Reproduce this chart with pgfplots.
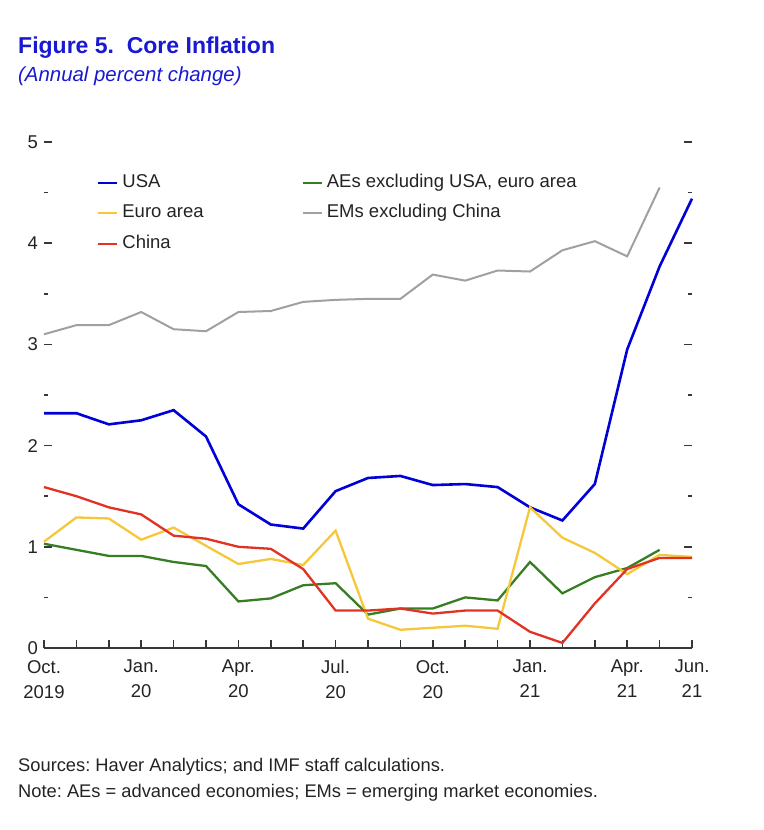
\documentclass[border=0pt]{standalone}
\usepackage{pgfplots}
\pgfplotsset{compat=1.18}
\usepackage{fontspec}
\setmainfont{Liberation Sans}
\frenchspacing
\definecolor{titleblue}{RGB}{25,25,210}
\definecolor{usablue}{RGB}{0,0,215}
\definecolor{euroyellow}{RGB}{245,200,60}
\definecolor{chinared}{RGB}{225,50,35}
\definecolor{aegreen}{RGB}{55,125,35}
\definecolor{emgray}{RGB}{160,160,160}
\definecolor{axisgray}{RGB}{55,55,55}
\definecolor{txt}{RGB}{35,35,35}
\begin{document}
\begin{tikzpicture}
\path[use as bounding box] (0,0) rectangle (764bp,830bp);
\node[anchor=base west, inner sep=0, text=titleblue, font=\fontsize{23bp}{27bp}\selectfont\bfseries] at (18bp,776bp) {Figure 5.\ \ Core Inflation};
\node[anchor=base west, inner sep=0, text=titleblue, font=\fontsize{20.4bp}{24bp}\selectfont\itshape] at (18bp,748bp) {(Annual percent change)};
\begin{axis}[
  at={(44bp,182bp)}, anchor=south west,
  scale only axis, width=648bp, height=506bp,
  xmin=0, xmax=20, ymin=0, ymax=5,
  axis line style={draw=none},
  tick align=inside,
  xtick pos=bottom, ytick pos=both,
  xtick={0,...,20},
  xticklabels={{Oct.\\2019},,,{Jan.\\20},,,{Apr.\\20},,,{Jul.\\20},,,{Oct.\\20},,,{Jan.\\21},,,{Apr.\\21},,{Jun.\\21}},
  ytick={0,1,2,3,4,5},
  minor ytick={0.5,1.5,2.5,3.5,4.5},
  major tick length=8bp, minor tick length=4bp,
  every tick/.style={axisgray, line width=1.5bp},
  /pgf/number format/assume math mode=true,
  tick label style={font=\fontsize{18.5bp}{25bp}\selectfont, text=txt},
  xticklabel style={align=center, anchor=north, inner sep=0pt, yshift=-12bp},
  yticklabel style={anchor=east, inner sep=0pt, xshift=-6bp},
  clip=false,
  legend columns=2,
  legend cell align=left,
  legend style={at={(0.0818,0.9368)}, anchor=north west, draw=none, fill=none,
    inner sep=0pt, column sep=4bp, row sep=13.5bp,
    font=\fontsize{18.5bp}{22bp}\selectfont, text=txt,
    nodes={inner sep=0pt, text height=13bp, text depth=4bp},
    /tikz/column 2/.style={column sep=98bp}},
  legend image code/.code={\draw[#1, line width=2.2bp] (0bp,0bp) -- (19bp,0bp);},
]
\draw[axisgray, line width=2bp] (rel axis cs:0,0) -- (rel axis cs:1,0);
\addplot[usablue, line width=2.6bp] coordinates {
(0,2.32)(1,2.32)(2,2.21)(3,2.25)(4,2.35)(5,2.09)(6,1.42)(7,1.22)(8,1.18)(9,1.55)(10,1.68)
(11,1.70)(12,1.61)(13,1.62)(14,1.59)(15,1.39)(16,1.26)(17,1.62)(18,2.95)(19,3.77)(20,4.44)};
\addlegendentry{USA}
\addplot[aegreen, line width=2.3bp] coordinates {
(0,1.03)(1,0.97)(2,0.91)(3,0.91)(4,0.85)(5,0.81)(6,0.46)(7,0.49)(8,0.62)(9,0.64)(10,0.33)
(11,0.39)(12,0.39)(13,0.50)(14,0.47)(15,0.85)(16,0.54)(17,0.70)(18,0.79)(19,0.97)};
\addlegendentry{AEs excluding USA, euro area}
\addplot[euroyellow, line width=2.3bp] coordinates {
(0,1.05)(1,1.29)(2,1.28)(3,1.07)(4,1.19)(5,1.01)(6,0.83)(7,0.88)(8,0.82)(9,1.16)(10,0.29)
(11,0.18)(12,0.20)(13,0.22)(14,0.19)(15,1.39)(16,1.09)(17,0.94)(18,0.73)(19,0.92)(20,0.90)};
\addlegendentry{Euro area}
\addplot[emgray, line width=2bp] coordinates {
(0,3.10)(1,3.19)(2,3.19)(3,3.32)(4,3.15)(5,3.13)(6,3.32)(7,3.33)(8,3.42)(9,3.44)(10,3.45)
(11,3.45)(12,3.69)(13,3.63)(14,3.73)(15,3.72)(16,3.93)(17,4.02)(18,3.87)(19,4.55)};
\addlegendentry{EMs excluding China}
\addplot[chinared, line width=2.3bp] coordinates {
(0,1.59)(1,1.50)(2,1.39)(3,1.32)(4,1.11)(5,1.08)(6,1.00)(7,0.98)(8,0.78)(9,0.37)(10,0.37)
(11,0.39)(12,0.34)(13,0.37)(14,0.37)(15,0.16)(16,0.05)(17,0.44)(18,0.78)(19,0.89)(20,0.89)};
\addlegendentry{China}
\end{axis}
\node[anchor=base west, inner sep=0, text=txt, font=\fontsize{18.3bp}{22bp}\selectfont] at (18bp,58bp) {Sources: Haver Analytics; and IMF staff calculations.};
\node[anchor=base west, inner sep=0, text=txt, font=\fontsize{18.3bp}{22bp}\selectfont] at (18bp,33bp) {Note: AEs = advanced economies; EMs = emerging market economies.};
\end{tikzpicture}
\end{document}
